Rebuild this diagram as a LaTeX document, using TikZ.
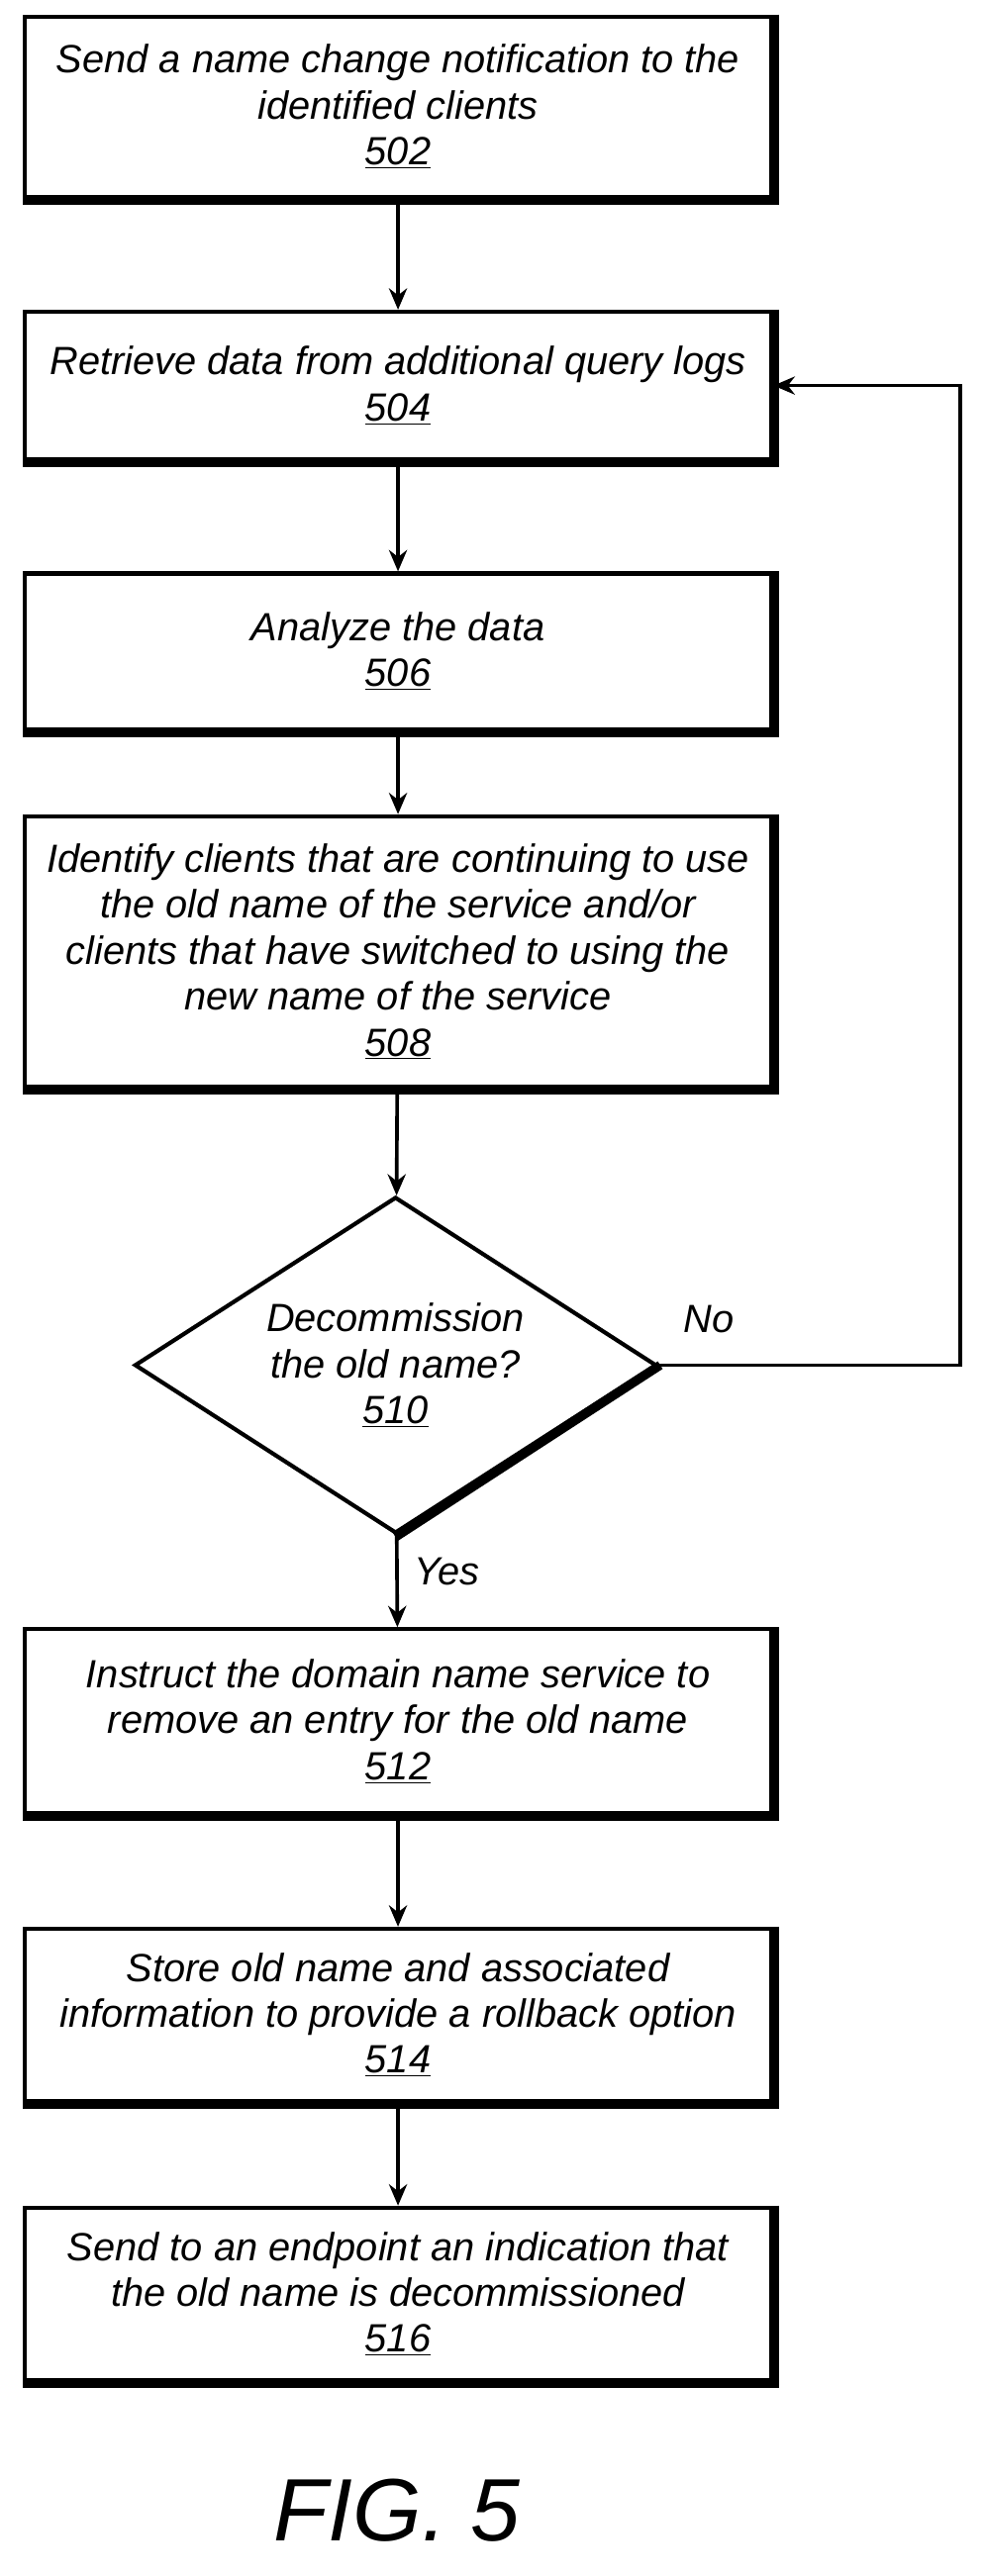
\documentclass[tikz,border=0pt]{standalone}
\usepackage{fontspec}
\setmainfont{Liberation Sans}
\usetikzlibrary{shapes.geometric,arrows.meta}
\begin{document}
\begin{tikzpicture}[x=1pt,y=1pt,>=Stealth,
  box/.style={draw,line width=2.5pt,minimum width=455pt,align=center,
    font=\fontsize{24}{28}\selectfont\itshape,inner sep=2pt},
  dec/.style={draw,diamond,line width=2.5pt,minimum width=318pt,minimum height=205pt,
    aspect=1.55,align=center,font=\fontsize{24}{28}\selectfont\itshape,inner sep=0pt},
  flow/.style={line width=2.2pt,-{Stealth[length=13pt,width=11pt]}},
  note/.style={font=\fontsize{24}{28}\selectfont\itshape}
]
\useasboundingbox (0,0) rectangle (600,-1570);

%--- Steps ---
\node[box,minimum height=110pt] (s502) at (242.5,-65) {Send a name change notification to the\\identified clients\\\underline{502}};
\node[box,minimum height=90pt] (s504) at (242.5,-235) {Retrieve data from additional query logs\\\underline{504}};
\node[box,minimum height=95pt] (s506) at (242.5,-397) {Analyze the data\\\underline{506}};
\node[box,minimum height=165pt] (s508) at (242.5,-580) {Identify clients that are continuing to use\\the old name of the service and/or\\clients that have switched to using the\\new name of the service\\\underline{508}};
\node[dec] (s510) at (241,-832) {Decommission\\the old name?\\\underline{510}};
\node[box,minimum height=112pt] (s512) at (242.5,-1049) {Instruct the domain name service to\\remove an entry for the old name\\\underline{512}};
\node[box,minimum height=105pt] (s514) at (242.5,-1228) {Store old name and associated\\information to provide a rollback option\\\underline{514}};
\node[box,minimum height=105pt] (s516) at (242.5,-1398) {Send to an endpoint an indication that\\the old name is decommissioned\\\underline{516}};

% shadows
\foreach \n in {s502,s504,s506,s508,s512,s514,s516}
  \draw[line width=5pt] ([xshift=1pt]\n.north east) -- ([xshift=1pt,yshift=-1pt]\n.south east) -- ([yshift=-1pt]\n.south west);
\draw[line width=5.5pt] ([xshift=1pt]s510.east) -- ([yshift=-1pt]s510.south);

%--- Connectors ---
\draw[flow] (s502) -- (s504);
\draw[flow] (s504) -- (s506);
\draw[flow] (s506) -- (s508);
\draw[flow] (s508) -- (s510);
\draw[flow] (s510) -- node[note,right=6pt,pos=0.4] {Yes} (s512);
\draw[flow] (s512) -- (s514);
\draw[flow] (s514) -- (s516);
\coordinate (loop) at (585,0);
\draw[flow] (s510.east) -- (s510.east -| loop) -- (loop |- s504.east) -- (s504.east);
\node[note,anchor=south] (no) at (432,-816) {No};

\node[font=\fontsize{54}{60}\selectfont\itshape] (fig) at (242,-1530) {FIG. 5};
\end{tikzpicture}
\end{document}
